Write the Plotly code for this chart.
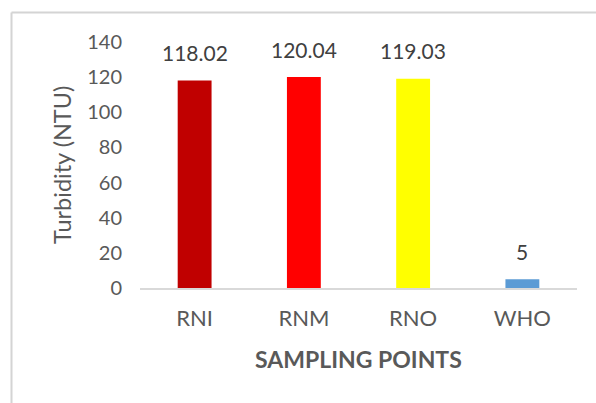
import plotly.graph_objects as go

categories = ["RNI", "RNM", "RNO", "WHO"]
turbidity = [118.02, 120.04, 119.03, 5]
bar_labels = ["118.02", "120.04", "119.03", "5"]
bar_colors = ["#C00000", "#FF0000", "#FFFF00", "#5B9BD5"]
y_ticks = [0, 20, 40, 60, 80, 100, 120, 140]

FONT = "Lato"
TXT = "#595959"

L, R, T, B = 140, 19, 42, 115
W, H = 596, 403
pw, ph = W - L - R, H - T - B

fig = go.Figure()
fig.add_trace(go.Bar(
    x=categories, y=turbidity, marker=dict(color=bar_colors, line=dict(width=0)),
    width=0.31, showlegend=False, hoverinfo="x+y",
))

for c, v, lab in zip(categories, turbidity, bar_labels):
    fig.add_annotation(x=c, y=v, text=lab, showarrow=False, yshift=28,
                       font=dict(family=FONT, size=21, color="#404040"))

def px_x(p):
    return (p - L) / pw

def px_y(p):
    return (H - B - p) / ph

# outer chart border (light gray), continuing past the right and bottom edges
fig.add_shape(type="line", xref="paper", yref="paper",
              x0=px_x(11.5), x1=px_x(596), y0=px_y(12.5), y1=px_y(12.5),
              line=dict(color="#D4D4D4", width=2), layer="above")
fig.add_shape(type="line", xref="paper", yref="paper",
              x0=px_x(11.5), x1=px_x(11.5), y0=px_y(12.5), y1=px_y(403),
              line=dict(color="#D4D4D4", width=2), layer="above")

fig.add_annotation(xref="paper", yref="paper", x=px_x(62), y=0.5, text="Turbidity (NTU)",
                   textangle=-90, showarrow=False, xanchor="center", yanchor="middle",
                   font=dict(family=FONT, size=23.5, color=TXT))
fig.add_annotation(xref="paper", yref="paper", x=px_x(358), y=px_y(359), text="<b>SAMPLING POINTS</b>",
                   showarrow=False, xanchor="center", yanchor="middle",
                   font=dict(family=FONT, size=23, color=TXT))

fig.update_layout(
    width=W, height=H,
    margin=dict(l=L, r=R, t=T, b=B, autoexpand=False),
    paper_bgcolor="white", plot_bgcolor="white",
    xaxis=dict(showline=True, linecolor="#D9D9D9", linewidth=1.5, showgrid=False,
               ticks="", tickfont=dict(family=FONT, size=22, color=TXT),
               ticklabelstandoff=10, fixedrange=True),
    yaxis=dict(range=[0, 140], tickvals=y_ticks, showgrid=False, zeroline=False,
               showline=False, ticks="", tickfont=dict(family=FONT, size=20, color=TXT),
               ticklabelstandoff=17, fixedrange=True),
)

fig.write_html("out.html", config={"displayModeBar": False},
               post_script="document.body.style.margin='0';")
